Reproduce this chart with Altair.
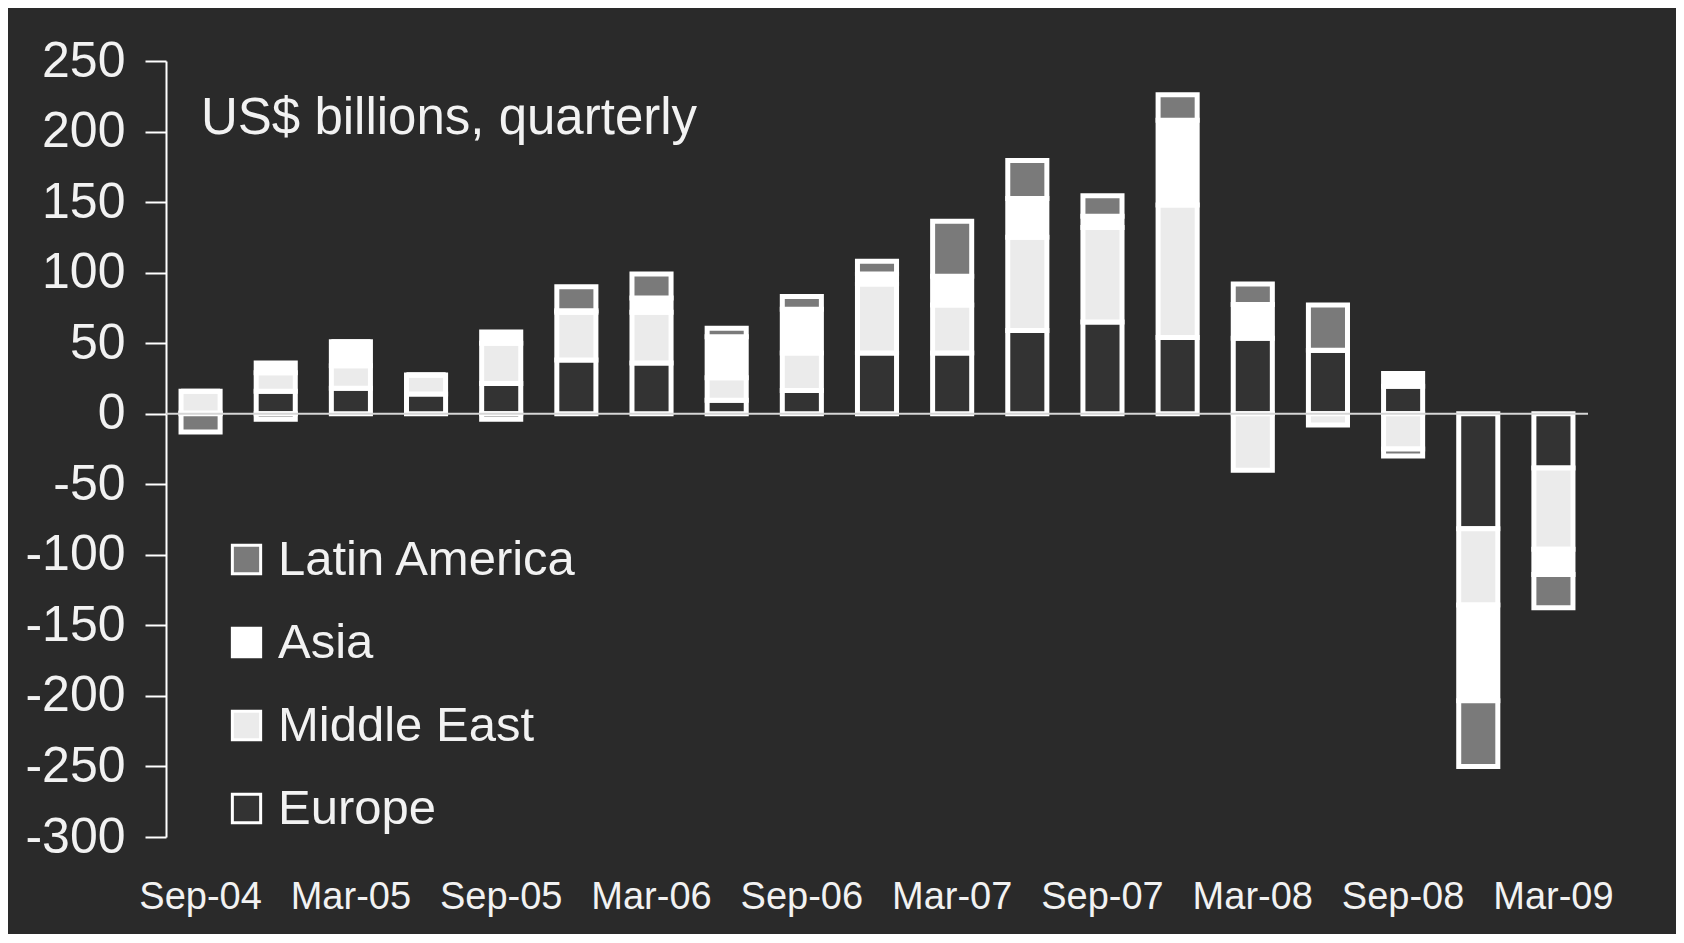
import altair as alt
import pandas as pd

quarters = ["Sep-04", "Dec-04", "Mar-05", "Jun-05", "Sep-05", "Dec-05", "Mar-06", "Jun-06",
            "Sep-06", "Dec-06", "Mar-07", "Jun-07", "Sep-07", "Dec-07", "Mar-08", "Jun-08",
            "Sep-08", "Dec-08", "Mar-09"]
europe = [0.5, 16, 18, 14, 21.5, 38, 36, 9.5, 16.5, 43, 43, 59, 65, 54, 53.5, 45, 19.5, -81.5, -38.5]
middle_east = [15.5, 13, 16, 13.5, 28.5, 34, 36, 16, 26.5, 49, 34, 66, 67, 94, -40, -8, -25, -54, -57.5]
asia = [0, 7, 17, 0, 8, 1, 10, 29, 31, 7, 20.5, 27.5, 8, 60, 24, 0, 9, -68, -18]
latin_america = [-13, -4, 0, 0, -4, 17, 17, 6, 9, 9, 39, 27, 14.5, 18, 14.5, 32, -5, -46.5, -23.5]
shown_labels = ["Sep-04", "Mar-05", "Sep-05", "Mar-06", "Sep-06", "Mar-07", "Sep-07",
                "Mar-08", "Sep-08", "Mar-09"]
y_ticks = [-300, -250, -200, -150, -100, -50, 0, 50, 100, 150, 200, 250]
regions = ["Latin America", "Asia", "Middle East", "Europe"]
region_colors = ["#7a7a7a", "#ffffff", "#ebebeb", "#333333"]
stack_rank = {"Europe": 0, "Middle East": 1, "Asia": 2, "Latin America": 3}

rows = []
for name, vals in [("Europe", europe), ("Middle East", middle_east), ("Asia", asia),
                   ("Latin America", latin_america)]:
    for q, v in zip(quarters, vals):
        rows.append({"quarter": q, "region": name, "value": v, "rank": stack_rank[name]})
df = pd.DataFrame(rows)

FONT = "Liberation Sans"

bars = alt.Chart(df).mark_bar(stroke="white", strokeWidth=5).encode(
    x=alt.X("quarter:N", sort=quarters,
            scale=alt.Scale(paddingInner=0.48, paddingOuter=0.2),
            axis=alt.Axis(title=None, values=shown_labels, labelAngle=0, ticks=False, domain=False,
                          labelFontSize=38, labelColor="#f2f2f2", labelPadding=41, labelFont=FONT)),
    y=alt.Y("value:Q", stack="zero",
            scale=alt.Scale(domain=[-300, 250], nice=False, zero=False),
            axis=alt.Axis(title=None, values=y_ticks, grid=False,
                          labelExpr="'' + datum.value",
                          tickSize=21, tickColor="white", tickWidth=2, domainColor="white",
                          domainWidth=2, labelFontSize=50, labelColor="#f2f2f2",
                          labelPadding=20, labelFont=FONT)),
    color=alt.Color("region:N", scale=alt.Scale(domain=regions, range=region_colors),
                    legend=alt.Legend(title=None, orient="none", legendX=56, legendY=474,
                                      symbolType="square", symbolSize=800,
                                      symbolStrokeColor="white", symbolStrokeWidth=3,
                                      symbolOpacity=1, labelLimit=600,
                                      labelFontSize=49, labelColor="#f2f2f2", labelFont=FONT,
                                      labelOffset=7, rowPadding=33)),
    order=alt.Order("rank:Q", sort="ascending"),
)

zero_df = pd.DataFrame({"y": [0]})
zero_line = alt.Chart(zero_df).mark_rule(color="#d6d6d6", strokeWidth=2).encode(y="y:Q")

note_df = pd.DataFrame({"t": ["US$ billions, quarterly"]})
note = alt.Chart(note_df).mark_text(align="left", baseline="alphabetic", fontSize=51,
                                    color="#f2f2f2", font=FONT).encode(
    text="t:N", x=alt.value(35), y=alt.value(73))

chart = alt.layer(bars, zero_line, note).properties(
    width=1422, height=776,
    padding={"left": 158, "top": 53, "right": 88, "bottom": 97},
    autosize=alt.AutoSizeParams(type="none"),
    background="#2a2a2a",
).configure_view(stroke=None)

chart.save("out.html", embed_options={"renderer": "svg", "actions": False})
